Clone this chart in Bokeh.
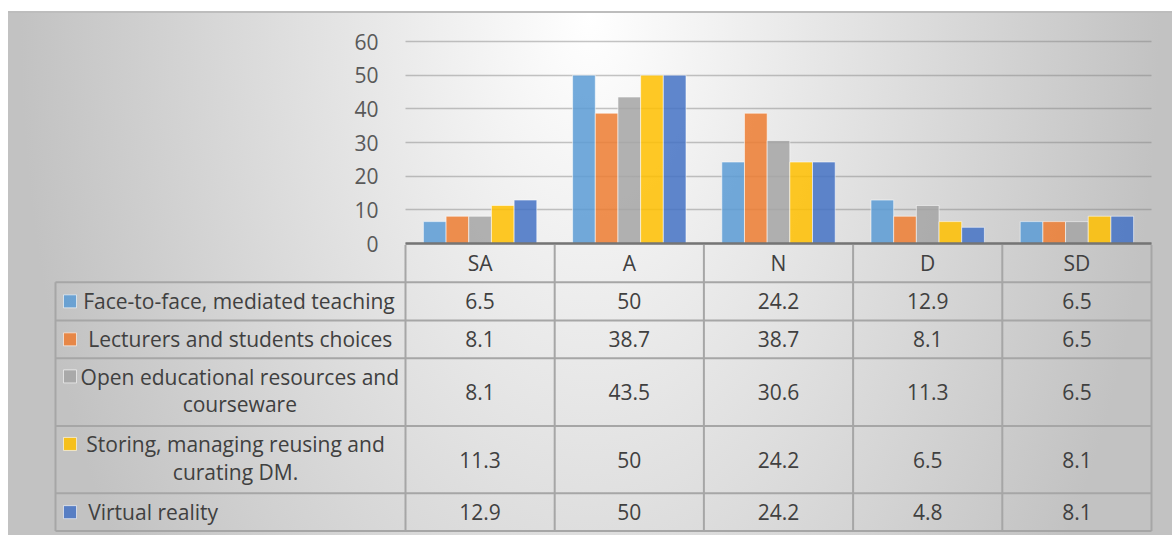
from bokeh.plotting import figure
from bokeh.models import Range1d, FixedTicker, ColumnDataSource, LinearAxis, Grid
from bokeh.transform import dodge
from bokeh.core.properties import value
from bokeh.embed import file_html
from bokeh.resources import INLINE

# ---------------- data ----------------
categories = ["SA", "A", "N", "D", "SD"]
series_names = [
    "Face-to-face, mediated teaching",
    "Lecturers and students choices",
    "Open educational resources and courseware",
    "Storing, managing reusing and curating DM.",
    "Virtual reality",
]
table_labels = [
    "Face-to-face, mediated teaching",
    "Lecturers and students choices",
    "Open educational resources and\ncourseware",
    "Storing, managing reusing and\ncurating DM.",
    "Virtual reality",
]
face_to_face = [6.5, 50, 24.2, 12.9, 6.5]
lecturers_students = [8.1, 38.7, 38.7, 8.1, 6.5]
open_resources = [8.1, 43.5, 30.6, 11.3, 6.5]
storing_dm = [11.3, 50, 24.2, 6.5, 8.1]
virtual_reality = [12.9, 50, 24.2, 4.8, 8.1]
y_ticks = [0, 10, 20, 30, 40, 50, 60]
colors = ["#5B9BD5", "#ED7D31", "#A5A5A5", "#FFC000", "#4472C4"]

series_values = [face_to_face, lecturers_students, open_resources, storing_dm, virtual_reality]

FONT = "Open Sans"
FS = 21
FSIZE = f"{FS}px"
TXT = "#404040"
W, H = 1172, 535
ncat = len(categories)
CAT_PX = 746 / 5.0          # width of one category column in pixels
k = 350 / CAT_PX            # width of the legend column, in category units
pad = 3 / CAT_PX
FRAME_TOP, FRAME_BOTTOM = 20, 532
PX_PER_VAL = 202 / 60.0     # 60 at y=41, 0 at y=243
y_top = 60 + (41 - FRAME_TOP) / PX_PER_VAL
y_bottom = -(FRAME_BOTTOM - 243) / PX_PER_VAL

p = figure(width=W, height=H,
           x_range=Range1d(-k - pad, ncat + pad), y_range=Range1d(y_bottom, y_top),
           output_backend="svg", toolbar_location=None,
           x_axis_location=None, y_axis_location=None,
           min_border_left=52, min_border_right=18,
           min_border_top=FRAME_TOP, min_border_bottom=H - FRAME_BOTTOM)
p.outline_line_color = None
p.background_fill_color = None
p.border_fill_color = None
p.grid.visible = False
p.extra_y_ranges = {"tbl": Range1d(FRAME_BOTTOM, FRAME_TOP)}

# y axis placed at the left edge of the bar area
yaxis = LinearAxis(fixed_location=0, ticker=FixedTicker(ticks=y_ticks))
yaxis.axis_line_color = None
yaxis.major_tick_line_color = None
yaxis.minor_tick_line_color = None
yaxis.major_label_standoff = 21
yaxis.major_label_text_font = FONT
yaxis.major_label_text_font_size = FSIZE
yaxis.major_label_text_color = "#595959"
p.add_layout(yaxis, "left")

grid = Grid(dimension=1, ticker=yaxis.ticker, cross_bounds=(0, ncat),
            grid_line_color="#7f7f7f", grid_line_alpha=0.45, grid_line_width=1.5)
p.add_layout(grid)

# ---------------- bars ----------------
src = ColumnDataSource({"xpos": [i + 0.5 for i in range(ncat)],
                        **{f"s{j}": v for j, v in enumerate(series_values)}})
bw = 0.152
for j, col in enumerate(colors):
    p.vbar(x=dodge("xpos", (j - 2) * bw), top=f"s{j}", bottom=0, width=bw,
           source=src, fill_color=col, fill_alpha=0.85,
           line_color="white", line_alpha=0.55, line_width=1)

# category axis line
p.segment(x0=[0], x1=[ncat], y0=[0], y1=[0], line_color="#757575", line_width=2.5)

# ---------------- data table ----------------
def px_to_u(px):
    return (px - 55) / CAT_PX - k


row_edges = [281.7, 320.0, 357.7, 425.5, 492.8, 530.5]
header_top = 244.5
row_centers = [(a + b) / 2 for a, b in zip(row_edges[:-1], row_edges[1:])]
LINE_C = "#a6a6a6"

p.segment(x0=[-k] * len(row_edges), x1=[ncat] * len(row_edges), y0=row_edges, y1=row_edges,
          line_color=LINE_C, line_width=2, y_range_name="tbl")
p.segment(x0=list(range(ncat + 1)), x1=list(range(ncat + 1)),
          y0=[header_top] * (ncat + 1), y1=[row_edges[-1]] * (ncat + 1),
          line_color=LINE_C, line_width=2, y_range_name="tbl")
p.segment(x0=[-k], x1=[-k], y0=[row_edges[0]], y1=[row_edges[-1]],
          line_color=LINE_C, line_width=2, y_range_name="tbl")

# header row (categories)
p.text(x=[i + 0.5 for i in range(ncat)], y=[(243 + row_edges[0]) / 2] * ncat,
       text=categories, text_font=value(FONT), text_font_size=FSIZE,
       text_color=TXT, text_align="center", text_baseline="middle", y_range_name="tbl")

# values
xs, ys, ts = [], [], []
for r, vals in enumerate(series_values):
    for i, v in enumerate(vals):
        xs.append(i + 0.5)
        ys.append(row_centers[r])
        ts.append(f"{v:g}")
p.text(x=xs, y=ys, text=ts, text_font=value(FONT), text_font_size=FSIZE,
       text_color=TXT, text_align="center", text_baseline="middle", y_range_name="tbl")

# row labels
pitch = 28.4
LH = pitch / (FS * 1.362)
left_rows = {0: 82.7, 1: 87.7, 4: 87.7}
center_rows = {2: 239.3, 3: 235.0}
p.text(x=[px_to_u(v) for v in left_rows.values()],
       y=[row_centers[r] for r in left_rows],
       text=[table_labels[r] for r in left_rows],
       text_font=value(FONT), text_font_size=FSIZE, text_color=TXT,
       text_align="left", text_baseline="middle", y_range_name="tbl")
p.text(x=[px_to_u(v) for v in center_rows.values()],
       y=[row_centers[r] - 1.5 for r in center_rows],
       text=[table_labels[r] for r in center_rows],
       text_font=value(FONT), text_font_size=FSIZE, text_color=TXT,
       text_align="center", text_baseline="middle", text_line_height=LH,
       y_range_name="tbl")

# legend keys
key_y = []
for r, lab in enumerate(table_labels):
    n = lab.count("\n") + 1
    key_y.append(row_centers[r] - (n - 1) * (pitch / 2 + 1.5))
p.scatter(x=[px_to_u(69.5)] * len(colors), y=key_y, marker="square", size=13,
          fill_color=colors, fill_alpha=0.85, line_color="white", line_alpha=0.6,
          line_width=1, y_range_name="tbl")

bg = ("linear-gradient(#ffffff,#ffffff) 0 0 / 8px 100% no-repeat, "
      "linear-gradient(#ffffff,#ffffff) 0 0 / 100% 11px no-repeat, "
      "linear-gradient(#bdbdbd,#bdbdbd) 8px 11px / 100% 2px no-repeat, "
      "radial-gradient(570px 960px at 590px 15px, #ffffff 0%, #c2c2c2 100%)")
p.styles = {"background": bg}

open("out.html", "w").write(file_html(p, INLINE))
